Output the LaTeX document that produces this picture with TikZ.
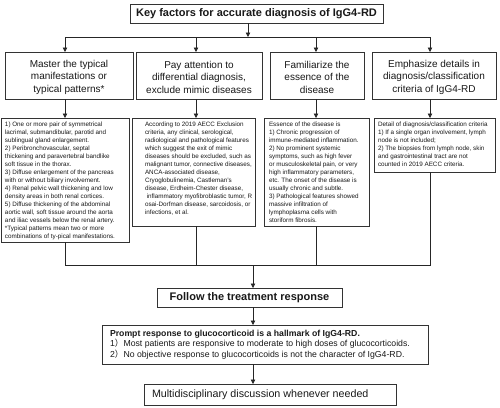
\documentclass[tikz,border=0pt]{standalone}
\usepackage{fontspec}
\setmainfont{Liberation Sans}
\newfontfamily\cjk{Noto Sans CJK SC}
\usetikzlibrary{arrows.meta,shadows,calc}
\begin{document}
\begin{tikzpicture}[x=1pt,y={(0,-1pt)},
  box/.style={draw=black!80, line width=0.8pt, fill=white, inner sep=0pt, outer sep=0pt,
    drop shadow={shadow xshift=0.9pt, shadow yshift=-0.9pt, fill=black!40, opacity=1}},
  txt/.style={inner sep=0pt, outer sep=0pt, text=black!90},
  detail/.style={txt, anchor=north west, align=left, font=\fontsize{6.3}{8}\selectfont},
  head/.style={txt, align=center, font=\fontsize{10}{12.5}\selectfont},
  big/.style={txt, font=\fontsize{11}{13}\selectfont\bfseries},
  conn/.style={draw=black!85, line width=0.8pt},
  arr/.style={conn, -{Triangle[length=4.5pt, width=4.5pt]}}
]
\useasboundingbox (0,0) rectangle (500,407);

% title
\node[box, minimum width=253pt, minimum height=19pt] (title) at (256.5,13.5) {};
\node[big] (titlet) at (title.center) {Key factors for accurate diagnosis of IgG4-RD};

% column coordinates
\coordinate (c1) at (65,0);
\coordinate (c2) at (196,0);
\coordinate (c3) at (316,0);
\coordinate (c4) at (430,0);
\coordinate (jt) at (248,37);
\coordinate (jb) at (253,265);

% main boxes
\node[box, minimum width=128pt, minimum height=47pt] (m1) at (69,75.5) {};
\node[box, minimum width=126pt, minimum height=47pt] (m2) at (199,75.5) {};
\node[box, minimum width=94pt, minimum height=47pt] (m3) at (317,75.5) {};
\node[box, minimum width=124pt, minimum height=47pt] (m4) at (434,75.5) {};
\node[head] (m1t) at ($(m1.center)+(0,1.5)$) {Master the typical\\manifestations or\\typical patterns*};
\node[head] (m2t) at ($(m2.center)+(0,1.5)$) {Pay attention to\\differential diagnosis,\\exclude mimic diseases};
\node[head] (m3t) at ($(m3.center)+(0,1.5)$) {Familiarize the\\essence of the\\disease};
\node[head] (m4t) at ($(m4.center)+(0,1.5)$) {Emphasize details in\\diagnosis/classification\\criteria of IgG4-RD};

% detail boxes
\node[box, minimum width=128pt, minimum height=124pt] (d1) at (65.5,180) {};
\node[box, minimum width=123pt, minimum height=108pt] (d2) at (193.5,172) {};
\node[box, minimum width=105pt, minimum height=108pt] (d3) at (316.5,172) {};
\node[box, minimum width=121pt, minimum height=54pt] (d4) at (434.5,145) {};

\node[detail] (d1t) at (5,121.5) {1) One or more pair of symmetrical\\
lacrimal, submandibular, parotid and\\
sublingual gland enlargement.\\
2) Peribronchovascular, septal\\
thickening and paravertebral bandlike\\
soft tissue in the thorax.\\
3) Diffuse enlargement of the pancreas\\
with or without biliary involvement.\\
4) Renal pelvic wall thickening and low\\
density areas in both renal cortices.\\
5) Diffuse thickening of the abdominal\\
aortic wall, soft tissue around the aorta\\
and iliac vessels below the renal artery.\\
*Typical patterns mean two or more\\
combinations of ty-pical manifestations.};

\node[detail] (d2t) at (145,121.5) {According to 2019 AECC Exclusion\\
criteria, any clinical, serological,\\
radiological and pathological features\\
which suggest the exit of mimic\\
diseases should be excluded, such as\\
malignant tumor, connective diseases,\\
ANCA-associated disease,\\
Cryoglobulinemia, Castleman's\\
disease, Erdheim-Chester disease,\\
\ inflammatory myofibroblastic tumor, R\\
osai-Dorfman disease, sarcoidosis, or\\
infections, et al.};

\node[detail] (d3t) at (269,121.5) {Essence of the disease is\\
1) Chronic progression of\\
immune-mediated inflammation.\\
2) No prominent systemic\\
symptoms, such as high fever\\
or musculoskeletal pain, or very\\
high inflammatory parameters,\\
etc. The onset of the disease is\\
usually chronic and subtle.\\
3) Pathological features showed\\
massive infiltration of\\
lymphoplasma cells with\\
storiform fibrosis.};

\node[detail] (d4t) at (378,121.5) {Detail of diagnosis/classification criteria\\
1) If a single organ involvement, lymph\\
node is not included;\\
2) The biopsies from lymph node, skin\\
and gastrointestinal tract are not\\
counted in 2019 AECC criteria.};

% lower boxes
\node[box, minimum width=185pt, minimum height=19pt] (follow) at (249.5,297.5) {};
\node[big] (followt) at (follow.center) {Follow the treatment response};

\node[box, minimum width=326pt, minimum height=39pt] (prompt) at (265,344.5) {};
\node[txt, anchor=west, align=left, font=\fontsize{8.7}{10.7}\selectfont] (promptt) at (110,344.5)
 {\textbf{Prompt response to glucocorticoid is a hallmark of IgG4-RD.}\\
 1{\cjk ）}Most patients are responsive to moderate to high doses of glucocorticoids.\\
 2{\cjk ）}No objective response to glucocorticoids is not the character of IgG4-RD.};

\node[box, minimum width=252pt, minimum height=21pt] (multi) at (270,394.5) {};
\node[txt, anchor=west, font=\fontsize{10.7}{13}\selectfont] (multit) at (152,394.5) {Multidisciplinary discussion whenever needed};

% connectors top
\draw[arr] (title.south -| jt) -- (jt);
\draw[conn] (jt -| c1) -- (jt -| c4);
\foreach \i in {1,2,3,4} {
  \draw[arr] (jt -| c\i) -- (m\i.north -| c\i);
  \draw[arr] (m\i.south -| c\i) -- (d\i.north -| c\i);
}
% connectors bottom
\draw[conn] (d1.south -| c1) |- (jb);
\draw[conn] (d4.south -| c4) |- (jb);
\draw[conn] (d2.south -| c2) -- (jb -| c2);
\draw[conn] (d3.south -| c3) -- (jb -| c3);
\draw[arr] (jb) -- (follow.north -| jb);
\draw[arr] (follow.south -| jb) -- (prompt.north -| jb);
\draw[arr] (prompt.south -| jb) -- (multi.north -| jb);
\end{tikzpicture}
\end{document}
